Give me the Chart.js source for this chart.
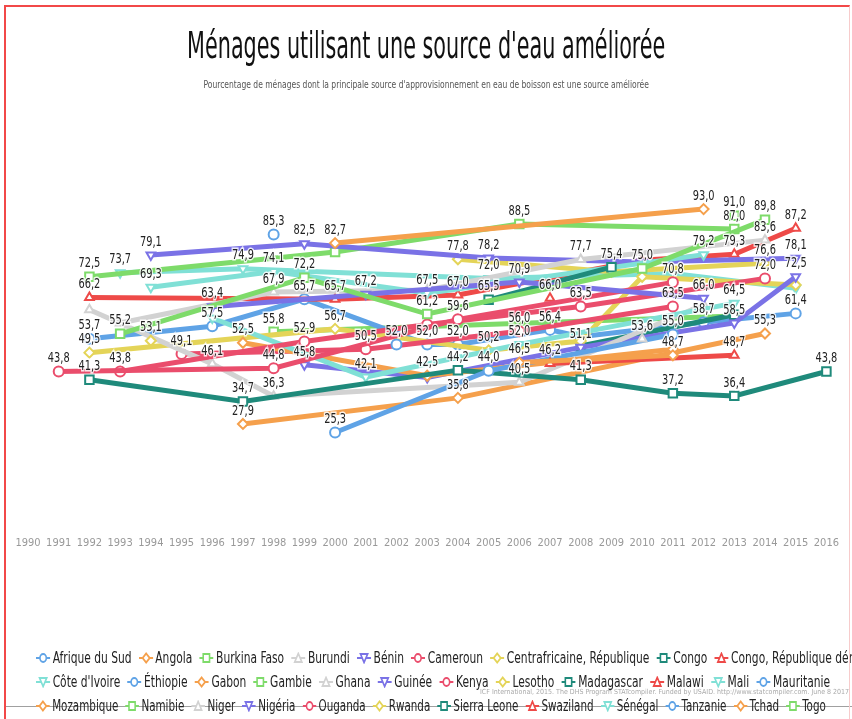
<!DOCTYPE html>
<html lang="fr">
<head>
<meta charset="utf-8">
<title>Ménages utilisant une source d'eau améliorée</title>
<script src="https://cdn.jsdelivr.net/npm/chart.js@4.4.1/dist/chart.umd.min.js"></script>
<style>
  html, body { margin: 0; padding: 0; background: #fff; }
  #page { position: relative; width: 852px; height: 719px; overflow: hidden;
    font-family: 'Liberation Sans Narrow', 'DejaVu Sans Condensed', 'Arial Narrow', sans-serif; }
  #graph { position: absolute; left: 0; top: 0; width: 852px; height: 719px; }
  #frame { position: absolute; left: 4px; top: 5px; width: 846px; height: 720px; box-sizing: border-box;
    border-left: 2px solid #f24848; border-top: 2px solid #f24848; border-right: 1px solid #f7cccc; pointer-events: none; }
  .titre { position: absolute; left: 0; width: 852px; text-align: center; white-space: nowrap; }
  .titre span { display: inline-block; transform-origin: 50% 50%; }
  #titre { top: 22px; font-size: 38px; line-height: 46px; color: #111; }
  #soustitre { top: 78px; font-size: 10px; line-height: 14px; color: #555; }
  .ligne { position: absolute; left: 36px; height: 22px; display: flex; align-items: center; white-space: nowrap;
    font-size: 15px; color: #222; transform-origin: 0 50%; }
  .item { display: inline-flex; align-items: center; margin-right: 9px; }
  .item svg { margin-right: 3px; }
  #trait { position: absolute; left: 6px; top: 706px; width: 846px; height: 1px; background: #a0a0a0; }
  #source { position: absolute; left: 480px; top: 688px; font-size: 7px; color: #aaa; white-space: nowrap; }
</style>
</head>
<body>
<div id="page">
  <canvas id="graph" width="852" height="719"></canvas>
  <div id="titre" class="titre"><span>Ménages utilisant une source d'eau améliorée</span></div>
  <div id="soustitre" class="titre"><span>Pourcentage de ménages dont la principale source d'approvisionnement en eau de boisson est une source améliorée</span></div>
  <div id="trait"></div>
  <div id="legende"></div>
  <div id="source">ICF International, 2015. The DHS Program STATcompiler. Funded by USAID. http://www.statcompiler.com. June 8 2017</div>
  <div id="frame"></div>
</div>
<script>
// années de l'axe
const annees = [];
for (let a = 1990; a <= 2016; a++) annees.push(a);

// [année, %] par pays
const afriqueDuSud = [[1998, 85.3]];
const angola = [[2006, 46.5], [2011, 48.7]];
const burkinaFaso = [[1993, 55.2], [1999, 72.2], [2003, 61.2], [2010, 75.0], [2014, 89.8]];
const burundi = [[2010, 53.6]];
const benin = [[1996, 63.4], [2001, 67.2], [2006, 70.9], [2012, 66.0]];
const cameroun = [[1991, 43.8], [1998, 44.8], [2004, 59.6], [2011, 70.8]];
const centrafrique = [[1994, 53.1]];
const congo = [[2005, 65.5], [2009, 75.4]];
const congoRDC = [[2007, 46.2], [2013, 48.7]];
const coteIvoire = [[1994, 69.3], [1998, 74.1], [2003, 67.5], [2012, 79.2]];
const ethiopie = [[2000, 25.3], [2005, 44.0], [2011, 55.0]];
const gabon = [[2000, 82.7], [2012, 93.0]];
const gambie = [[2013, 91.0]];
const ghana = [[1993, 58.5], [1998, 67.9], [2003, 68.5], [2008, 77.7], [2014, 83.6]];
const guinee = [[1994, 79.1], [1999, 82.5], [2005, 78.2], [2010, 77.0], [2015, 78.1]];
const kenya = [[1993, 43.8], [1999, 52.9], [2003, 58.0], [2008, 63.5], [2014, 72.0]];
const lesotho = [[2004, 77.8], [2009, 74.0], [2014, 76.6]];
const madagascar = [[1992, 41.3], [1997, 34.7], [2004, 44.2], [2008, 41.3], [2011, 37.2], [2013, 36.4], [2016, 43.8]];
const malawi = [[1992, 66.2], [2000, 65.7], [2004, 67.0], [2010, 77.5], [2013, 79.3], [2015, 87.2]];
const mali = [[1996, 60.0], [2001, 42.1], [2006, 52.0], [2013, 64.5]];
const mauritanie = [[2002, 52.0]];
const mozambique = [[1997, 52.5], [2003, 42.5], [2011, 50.5]];
const namibie = [[1992, 72.5], [2000, 80.0], [2006, 88.5], [2013, 87.0]];
const niger = [[1992, 62.5], [1996, 46.1], [1998, 36.3], [2006, 40.5], [2012, 64.0]];
const nigeria = [[1999, 45.8], [2003, 42.0], [2008, 51.1], [2013, 58.5], [2015, 72.5]];
const ouganda = [[1995, 49.1], [2001, 50.5], [2006, 56.0], [2011, 63.5]];
const rwanda = [[1992, 49.5], [2000, 56.7], [2005, 50.2], [2008, 53.0], [2010, 72.5], [2015, 70.0]];
const sierraLeone = [[2008, 51.5], [2013, 61.0]];
const swaziland = [[2007, 66.0]];
const senegal = [[1993, 73.7], [1997, 74.9], [2005, 72.0], [2011, 73.5], [2015, 69.0]];
const tanzanie = [[1992, 53.7], [1996, 57.5], [1999, 65.7], [2003, 52.0], [2004, 52.0], [2007, 56.4], [2008, 54.3], [2012, 58.7], [2015, 61.4]];
const tchad = [[1997, 27.9], [2004, 35.8], [2014, 55.3]];
const togo = [[1998, 55.8], [2013, 60.6]];

const pays = ['Afrique du Sud', 'Angola', 'Burkina Faso', 'Burundi', 'Bénin', 'Cameroun',
  'Centrafricaine, République', 'Congo', 'Congo, République démocratique', "Côte d'Ivoire",
  'Éthiopie', 'Gabon', 'Gambie', 'Ghana', 'Guinée', 'Kenya', 'Lesotho', 'Madagascar', 'Malawi',
  'Mali', 'Mauritanie', 'Mozambique', 'Namibie', 'Niger', 'Nigéria', 'Ouganda', 'Rwanda',
  'Sierra Leone', 'Swaziland', 'Sénégal', 'Tanzanie', 'Tchad', 'Togo'];
const series = [afriqueDuSud, angola, burkinaFaso, burundi, benin, cameroun, centrafrique, congo,
  congoRDC, coteIvoire, ethiopie, gabon, gambie, ghana, guinee, kenya, lesotho, madagascar, malawi,
  mali, mauritanie, mozambique, namibie, niger, nigeria, ouganda, rwanda, sierraLeone, swaziland,
  senegal, tanzanie, tchad, togo];

const couleurs = ['#5fa3e6', '#f5a04c', '#7edb6a', '#d2d2d2', '#7a72e6', '#ea4d6c', '#e4d458', '#1f8a7b', '#ee4a48', '#80e0d6'];
const formes = ['circle', 'diamond', 'square', 'triangle', 'triangleDown'];
const styleChart = { circle: 'circle', diamond: 'rectRot', square: 'rect', triangle: 'triangle', triangleDown: 'triangle' };

const police = "'Liberation Sans Narrow', 'DejaVu Sans Condensed', 'Arial Narrow', sans-serif";

const datasets = series.map((s, i) => {
  const c = couleurs[i % 10];
  const f = formes[i % 5];
  return {
    label: pays[i],
    data: s.map(p => ({ x: p[0], y: p[1] })),
    borderColor: c,
    backgroundColor: c,
    borderWidth: 5,
    tension: 0,
    pointStyle: styleChart[f],
    pointRotation: f === 'triangleDown' ? 180 : 0,
    pointRadius: f === 'square' ? 6 : 5,
    pointBorderWidth: 2,
    pointBackgroundColor: '#fff',
    pointBorderColor: c,
    clip: false
  };
});

// étiquettes de valeurs au-dessus des points, resserrées, en sautant celles qui se chevauchent
const etiquettes = {
  id: 'etiquettes',
  afterDatasetsDraw(chart) {
    const ctx = chart.ctx;
    const sx = 0.78;
    ctx.save();
    ctx.font = '14px ' + police;
    ctx.textAlign = 'center';
    ctx.textBaseline = 'bottom';
    const boites = [];
    chart.data.datasets.forEach((ds, i) => {
      const meta = chart.getDatasetMeta(i);
      meta.data.forEach((pt, j) => {
        const txt = ds.data[j].y.toFixed(1).replace('.', ',');
        const w = ctx.measureText(txt).width * sx;
        const x = pt.x, y = pt.y - 6;
        const b = { l: x - w / 2 - 1, r: x + w / 2 + 1, t: y - 13, b: y };
        if (boites.some(o => b.l < o.r && b.r > o.l && b.t < o.b && b.b > o.t)) return;
        boites.push(b);
        ctx.save();
        ctx.translate(x, y);
        ctx.scale(sx, 1);
        ctx.lineWidth = 3;
        ctx.strokeStyle = 'rgba(255,255,255,0.85)';
        ctx.strokeText(txt, 0, 0);
        ctx.fillStyle = '#222';
        ctx.fillText(txt, 0, 0);
        ctx.restore();
      });
    });
    ctx.restore();
  }
};

new Chart(document.getElementById('graph'), {
  type: 'line',
  data: { datasets: datasets },
  options: {
    responsive: false,
    animation: false,
    devicePixelRatio: 1,
    layout: { padding: { left: 28, right: 24, top: 186, bottom: 173 } },
    scales: {
      x: {
        type: 'linear',
        min: annees[0],
        max: annees[annees.length - 1],
        grid: { display: false },
        border: { display: false },
        afterFit(scale) { scale.height = 30; },
        afterBuildTicks(scale) { scale.ticks = annees.map(a => ({ value: a })); },
        ticks: {
          autoSkip: false,
          maxRotation: 0,
          padding: 13,
          color: '#999',
          font: { family: police, size: 11 },
          callback: v => String(v)
        }
      },
      y: { display: false, min: 0, max: 100 }
    },
    plugins: {
      legend: { display: false },
      tooltip: { enabled: false }
    }
  },
  plugins: [etiquettes]
});

// titres : resserrés pour la largeur de l'original
function ajuster(id, largeur) {
  const s = document.querySelector('#' + id + ' span');
  s.style.transform = 'scaleX(' + (largeur / s.offsetWidth) + ')';
}
ajuster('titre', 478);
ajuster('soustitre', 445);

// légende en trois lignes comme l'original
function symbole(f, c) {
  let m = '';
  if (f === 'circle') m = '<circle cx="9" cy="6" r="4" fill="#fff" stroke="' + c + '" stroke-width="2"/>';
  if (f === 'diamond') m = '<polygon points="9,1.5 13.5,6 9,10.5 4.5,6" fill="#fff" stroke="' + c + '" stroke-width="2"/>';
  if (f === 'square') m = '<rect x="5" y="2" width="8" height="8" fill="#fff" stroke="' + c + '" stroke-width="2"/>';
  if (f === 'triangle') m = '<polygon points="9,1.5 13.5,10 4.5,10" fill="#fff" stroke="' + c + '" stroke-width="2"/>';
  if (f === 'triangleDown') m = '<polygon points="4.5,2 13.5,2 9,10.5" fill="#fff" stroke="' + c + '" stroke-width="2"/>';
  return '<svg width="18" height="12"><line x1="0" y1="6" x2="18" y2="6" stroke="' + c + '" stroke-width="2"/>' + m + '</svg>';
}
const lignesLegende = [[0, 9], [9, 21], [21, 33]];
const hautLigne = [647, 671, 695];
const finLigne = [null, 830, 826];
const leg = document.getElementById('legende');
const rangs = lignesLegende.map((r, k) => {
  const div = document.createElement('div');
  div.className = 'ligne';
  div.style.top = hautLigne[k] + 'px';
  for (let i = r[0]; i < r[1]; i++) {
    div.innerHTML += '<span class="item">' + symbole(formes[i % 5], couleurs[i % 10]) + '<span>' + pays[i] + '</span></span>';
  }
  leg.appendChild(div);
  return div;
});
// chaque ligne resserrée pour finir où finit celle de l'original
const k2 = (finLigne[1] - 36) / (rangs[1].scrollWidth - 9);
const k3 = (finLigne[2] - 36) / (rangs[2].scrollWidth - 9);
rangs[0].style.transform = 'scaleX(' + k2 + ')';
rangs[1].style.transform = 'scaleX(' + k2 + ')';
rangs[2].style.transform = 'scaleX(' + k3 + ')';
</script>
</body>
</html>
